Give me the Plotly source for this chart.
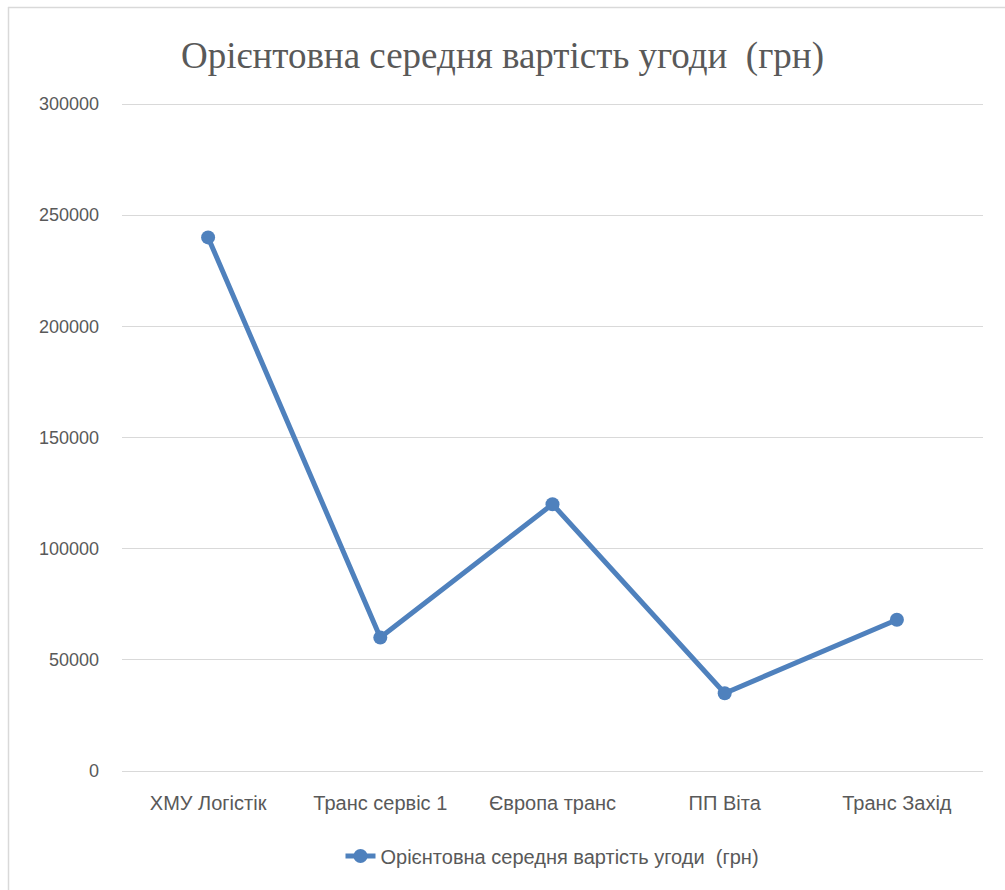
import plotly.graph_objects as go

categories = ["ХМУ Логістік", "Транс сервіс 1", "Європа транс", "ПП Віта", "Транс Захід"]
values = [240000, 60000, 120000, 35000, 68000]
series_name = "Орієнтовна середня вартість угоди  (грн)"
title_text = "Орієнтовна середня вартість угоди  (грн)"
y_ticks = [0, 50000, 100000, 150000, 200000, 250000, 300000]

W, H = 1005, 890
PAD = 7  # px of padding above/below so edge gridlines are drawn
L, R, T, B = 122, 22, 104 - PAD, 119 - PAD
pw, ph = W - L - R, H - T - B
pad_val = PAD * 300000 / (ph - 2 * PAD)

def px(x):
    return (x - L) / pw

def py(y):
    return (H - B - y) / ph

fig = go.Figure()
fig.add_trace(go.Scatter(
    x=categories, y=values, mode="lines+markers", name=series_name,
    line=dict(color="#4F81BD", width=5),
    marker=dict(color="#4F81BD", size=14),
))

fig.update_layout(
    width=W, height=H,
    margin=dict(l=L, r=R, t=T, b=B),
    paper_bgcolor="white", plot_bgcolor="white",
    title=dict(text=title_text, x=0.5, xanchor="center", y=1 - 55 / H, yanchor="middle",
               font=dict(family="Liberation Serif, Times New Roman, serif", size=37, color="#595959")),
    xaxis=dict(showgrid=False, showline=False, zeroline=False, ticks="",
               range=[-0.5, 4.5],
               tickfont=dict(family="Liberation Sans, Arial", size=20, color="#595959"),
               ticklabelstandoff=18 - PAD),
    yaxis=dict(range=[-pad_val, 300000 + pad_val], tickvals=y_ticks, ticktext=[str(v) for v in y_ticks],
               showgrid=True, gridcolor="#D9D9D9", gridwidth=1.3,
               zeroline=True, zerolinecolor="#D9D9D9", zerolinewidth=1.3,
               showline=False, ticks="",
               tickfont=dict(family="Liberation Sans, Arial", size=18, color="#595959"),
               ticklabelstandoff=22),
    showlegend=True,
    legend=dict(orientation="h", x=0.5, xanchor="center", y=py(856), yanchor="middle",
                font=dict(family="Liberation Sans, Arial", size=20, color="#595959")),
    shapes=[
        dict(type="line", xref="paper", yref="paper", x0=px(8), x1=px(1010), y0=py(7.5), y1=py(7.5),
             line=dict(color="#D9D9D9", width=1.5)),
        dict(type="line", xref="paper", yref="paper", x0=px(8.5), x1=px(8.5), y0=py(7), y1=py(895),
             line=dict(color="#D9D9D9", width=1.5)),
    ],
)

fig.write_html("out.html")
